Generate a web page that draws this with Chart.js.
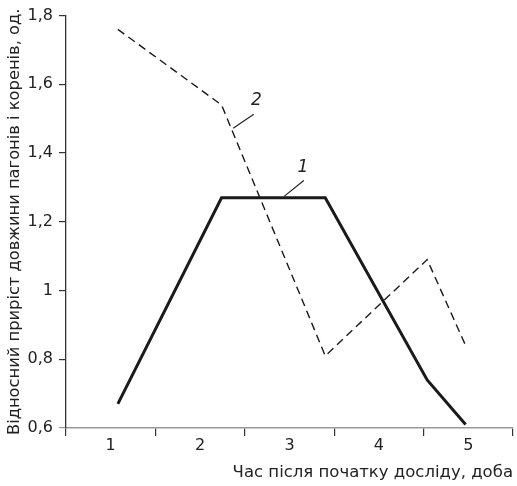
<!DOCTYPE html>
<html>
<head>
<meta charset="utf-8">
<script src="https://cdn.jsdelivr.net/npm/chart.js@4/dist/chart.umd.min.js"></script>
<style>
  html, body { margin: 0; padding: 0; background: #fff; }
  #wrap { width: 517px; height: 486px; }
</style>
</head>
<body>
<div id="wrap"><canvas id="c" width="517" height="486"></canvas></div>
<script>
// Day positions of measured points (x, in days)
const days = [1.08, 2.24, 3.40, 4.54, 4.97];
// Series 1 (solid)
const series1 = [0.67, 1.27, 1.27, 0.74, 0.61];
// Series 2 (dashed)
const series2 = [1.76, 1.54, 0.81, 1.09, 0.84];
// Tick labels
const xTickLabels = ['1', '2', '3', '4', '5'];
const yTickValues = [0.6, 0.8, 1.0, 1.2, 1.4, 1.6, 1.8];
const yTickLabels = ['0,6', '0,8', '1', '1,2', '1,4', '1,6', '1,8'];
// Curve callouts: label, text position, leader start, leader end (data units)
const callouts = [
  { text: '1', tx: 3.15, ty: 1.358, x0: 2.94, y0: 1.274, x1: 3.16, y1: 1.320 },
  { text: '2', tx: 2.63, ty: 1.554, x0: 2.37, y0: 1.4725, x1: 2.60, y1: 1.513 }
];

const FONT = '"DejaVu Sans", "Liberation Sans", Arial, sans-serif';

const calloutPlugin = {
  id: 'callouts',
  afterDatasetsDraw(chart) {
    const { ctx, scales: { x, y } } = chart;
    ctx.save();
    ctx.strokeStyle = '#222';
    ctx.lineWidth = 1.2;
    ctx.fillStyle = '#222';
    ctx.font = 'italic 17px ' + FONT;
    ctx.textAlign = 'center';
    ctx.textBaseline = 'middle';
    callouts.forEach(c => {
      ctx.beginPath();
      ctx.moveTo(x.getPixelForValue(c.x0), y.getPixelForValue(c.y0));
      ctx.lineTo(x.getPixelForValue(c.x1), y.getPixelForValue(c.y1));
      ctx.stroke();
      ctx.fillText(c.text, x.getPixelForValue(c.tx), y.getPixelForValue(c.ty));
    });
    ctx.restore();
  }
};

new Chart(document.getElementById('c'), {
  type: 'line',
  data: {
    datasets: [
      {
        label: '1',
        data: days.map((d, i) => ({ x: d, y: series1[i] })),
        borderColor: '#1a1a1a',
        borderWidth: 3,
        pointRadius: 0,
        tension: 0,
        fill: false
      },
      {
        label: '2',
        data: days.map((d, i) => ({ x: d, y: series2[i] })),
        borderColor: '#1a1a1a',
        borderWidth: 1.4,
        borderDash: [8, 5],
        pointRadius: 0,
        tension: 0,
        fill: false
      }
    ]
  },
  options: {
    responsive: false,
    animation: false,
    devicePixelRatio: 1,
    layout: { padding: { top: 13, right: 4, bottom: 0, left: 0 } },
    plugins: { legend: { display: false }, tooltip: { enabled: false } },
    scales: {
      x: {
        type: 'linear',
        min: 0.5,
        max: 5.5,
        afterBuildTicks(scale) {
          const t = [];
          for (let v = 0.5; v <= 5.5001; v += 0.5) t.push({ value: Math.round(v * 10) / 10 });
          scale.ticks = t;
        },
        afterFit(scale) { scale.height = 58; },
        ticks: {
          autoSkip: false,
          maxRotation: 0,
          padding: 0,
          color: '#222',
          font: { family: FONT, size: 16 },
          callback: (v) => (Number.isInteger(v) ? xTickLabels[v - 1] : '')
        },
        grid: {
          drawOnChartArea: false,
          drawTicks: true,
          tickLength: 8,
          lineWidth: 1.2,
          color: (ctx) => (ctx.tick && !Number.isInteger(ctx.tick.value) ? '#333' : 'rgba(0,0,0,0)')
        },
        border: { display: true, color: '#999', width: 1.5 },
        title: {
          display: true,
          text: 'Час після початку досліду, доба',
          align: 'end',
          color: '#222',
          font: { family: FONT, size: 16.5 },
          padding: { top: 0, bottom: 3 }
        }
      },
      y: {
        type: 'linear',
        min: 0.6,
        max: 1.8,
        afterBuildTicks(scale) {
          scale.ticks = yTickValues.map(v => ({ value: v }));
        },
        afterFit(scale) { scale.width = 66; },
        ticks: {
          padding: 6,
          color: '#222',
          font: { family: FONT, size: 16 },
          callback: (v) => {
            const i = yTickValues.findIndex(t => Math.abs(t - v) < 1e-6);
            return i >= 0 ? yTickLabels[i] : '';
          }
        },
        grid: {
          drawOnChartArea: false,
          drawTicks: true,
          tickLength: 7,
          lineWidth: 1.2,
          color: (ctx) => (ctx.tick && Math.abs(ctx.tick.value - 0.6) < 1e-6 ? '#999' : '#333')
        },
        border: { display: true, color: '#333', width: 1.3 },
        title: {
          display: true,
          text: 'Відносний приріст довжини пагонів і коренів, од.',
          color: '#222',
          font: { family: FONT, size: 16.3 },
          padding: { top: 5, bottom: 0 }
        }
      }
    }
  },
  plugins: [calloutPlugin]
});
</script>
</body>
</html>
